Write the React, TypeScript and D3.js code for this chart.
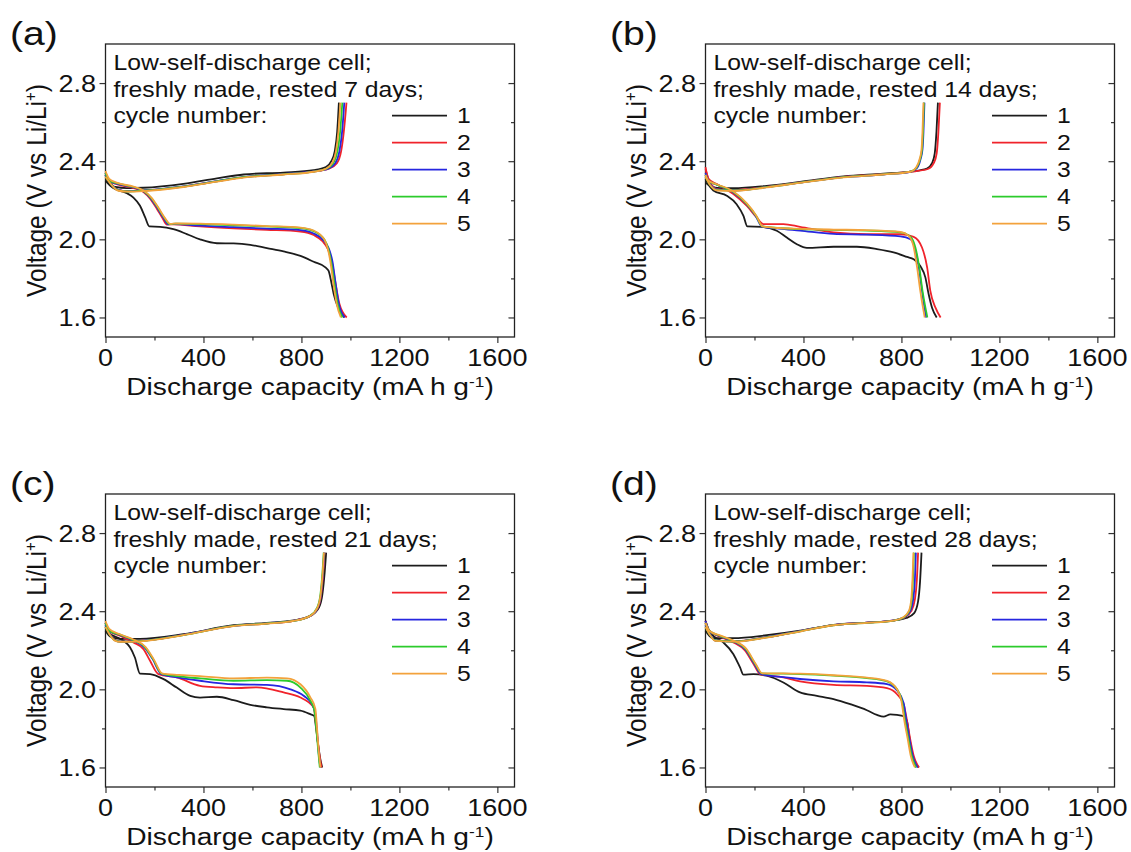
import React, { useEffect, useRef } from 'react';
import * as d3 from 'd3';

const panelLetters = ['(a)', '(b)', '(c)', '(d)'];
const restDays = [7, 14, 21, 28];
const cycleLabels = ['1', '2', '3', '4', '5'];
const cycleColors = ['#1c1c1c', '#f0232b', '#2626e0', '#2ccb2c', '#f3a23c'];
const xMajorTicks = [0, 400, 800, 1200, 1600];
const xMinorTicks = [200, 600, 1000, 1400];
const yMajorTicks = [1.6, 2.0, 2.4, 2.8];
const yMinorTicks = [1.8, 2.2, 2.6];

// [capacity (mA h g-1), voltage (V)], one list per cycle 1..5
const chargeA = [
  [[0, 2.3], [15, 2.28], [40, 2.268], [87, 2.262], [155, 2.264], [318, 2.284], [455, 2.312], [564, 2.332], [727, 2.342], [850, 2.354], [900, 2.37], [922, 2.4], [936, 2.45], [946, 2.55], [953, 2.7]],
  [[0, 2.33], [20, 2.29], [50, 2.255], [90, 2.247], [155, 2.25], [318, 2.27], [455, 2.297], [564, 2.318], [727, 2.333], [850, 2.347], [912, 2.362], [945, 2.39], [962, 2.45], [973, 2.55], [984, 2.7]],
  [[0, 2.33], [20, 2.288], [50, 2.254], [90, 2.246], [155, 2.25], [318, 2.271], [455, 2.298], [564, 2.319], [727, 2.334], [850, 2.348], [910, 2.362], [938, 2.39], [955, 2.45], [966, 2.55], [975, 2.7]],
  [[0, 2.32], [20, 2.286], [50, 2.252], [90, 2.245], [155, 2.249], [318, 2.27], [455, 2.297], [564, 2.318], [727, 2.333], [850, 2.347], [905, 2.363], [930, 2.39], [947, 2.45], [958, 2.55], [967, 2.7]],
  [[0, 2.32], [20, 2.285], [50, 2.25], [90, 2.244], [155, 2.247], [318, 2.268], [455, 2.295], [564, 2.316], [727, 2.332], [850, 2.346], [902, 2.363], [925, 2.39], [941, 2.45], [951, 2.55], [959, 2.7]],
];
const dischargeA = [
  [[0, 2.33], [10, 2.29], [32, 2.262], [87, 2.236], [114, 2.214], [141, 2.172], [162, 2.112], [179, 2.066], [223, 2.064], [277, 2.052], [332, 2.027], [386, 2.0], [455, 1.98], [523, 1.979], [591, 1.972], [659, 1.955], [727, 1.938], [796, 1.915], [850, 1.885], [898, 1.856], [911, 1.838], [921, 1.787], [932, 1.719], [950, 1.65], [975, 1.6]],
  [[0, 2.34], [15, 2.3], [46, 2.282], [114, 2.262], [155, 2.242], [182, 2.208], [209, 2.158], [232, 2.11], [250, 2.076], [277, 2.077], [386, 2.066], [523, 2.056], [659, 2.049], [796, 2.04], [850, 2.022], [886, 1.99], [908, 1.95], [925, 1.88], [940, 1.77], [955, 1.67], [985, 1.6]],
  [[0, 2.34], [15, 2.3], [46, 2.285], [114, 2.266], [155, 2.246], [185, 2.21], [212, 2.16], [237, 2.11], [256, 2.077], [280, 2.078], [386, 2.07], [523, 2.062], [659, 2.055], [796, 2.047], [850, 2.03], [890, 1.995], [911, 1.955], [927, 1.885], [940, 1.77], [953, 1.668], [977, 1.6]],
  [[0, 2.34], [15, 2.3], [46, 2.288], [114, 2.268], [155, 2.248], [188, 2.21], [215, 2.16], [240, 2.11], [261, 2.078], [285, 2.08], [386, 2.078], [523, 2.072], [659, 2.066], [796, 2.058], [850, 2.042], [893, 2.0], [910, 1.95], [922, 1.88], [935, 1.77], [948, 1.668], [967, 1.6]],
  [[0, 2.35], [15, 2.31], [46, 2.29], [114, 2.27], [155, 2.25], [190, 2.21], [217, 2.16], [242, 2.11], [264, 2.079], [290, 2.081], [386, 2.08], [523, 2.075], [659, 2.068], [796, 2.06], [850, 2.045], [893, 2.0], [908, 1.95], [919, 1.88], [931, 1.77], [944, 1.668], [961, 1.6]],
];

const chargeB = [
  [[0, 2.29], [20, 2.272], [60, 2.262], [114, 2.262], [250, 2.274], [386, 2.294], [564, 2.322], [727, 2.336], [837, 2.347], [904, 2.362], [925, 2.39], [936, 2.44], [943, 2.55], [949, 2.7]],
  [[0, 2.36], [15, 2.3], [50, 2.256], [114, 2.252], [250, 2.269], [386, 2.291], [564, 2.32], [727, 2.334], [837, 2.346], [908, 2.36], [932, 2.39], [944, 2.44], [951, 2.55], [957, 2.7]],
  [[0, 2.33], [15, 2.29], [50, 2.254], [114, 2.25], [250, 2.268], [386, 2.29], [564, 2.318], [727, 2.332], [837, 2.346], [864, 2.366], [878, 2.41], [886, 2.46], [890, 2.55], [894, 2.7]],
  [[0, 2.32], [15, 2.285], [50, 2.252], [114, 2.25], [250, 2.267], [386, 2.29], [564, 2.318], [727, 2.333], [837, 2.347], [862, 2.368], [876, 2.41], [884, 2.46], [888, 2.55], [892, 2.7]],
  [[0, 2.32], [15, 2.285], [50, 2.25], [114, 2.248], [250, 2.266], [386, 2.289], [564, 2.317], [727, 2.332], [837, 2.346], [860, 2.368], [874, 2.41], [882, 2.46], [886, 2.55], [890, 2.7]],
];
const dischargeB = [
  [[0, 2.31], [12, 2.28], [32, 2.25], [87, 2.223], [127, 2.18], [155, 2.12], [171, 2.066], [230, 2.064], [291, 2.044], [332, 2.009], [373, 1.975], [414, 1.956], [523, 1.962], [618, 1.962], [700, 1.95], [768, 1.933], [823, 1.91], [850, 1.898], [877, 1.864], [898, 1.804], [911, 1.72], [925, 1.65], [944, 1.6]],
  [[0, 2.37], [12, 2.31], [46, 2.283], [114, 2.232], [168, 2.172], [209, 2.112], [237, 2.078], [318, 2.078], [386, 2.064], [523, 2.035], [659, 2.026], [796, 2.026], [850, 2.013], [884, 1.958], [905, 1.856], [918, 1.736], [939, 1.65], [960, 1.6]],
  [[0, 2.34], [12, 2.3], [46, 2.28], [114, 2.24], [168, 2.18], [205, 2.12], [230, 2.066], [300, 2.055], [386, 2.045], [523, 2.028], [659, 2.024], [796, 2.015], [837, 2.0], [857, 1.945], [871, 1.856], [884, 1.736], [894, 1.65], [901, 1.6]],
  [[0, 2.33], [12, 2.3], [46, 2.28], [114, 2.242], [168, 2.182], [207, 2.12], [232, 2.066], [300, 2.058], [386, 2.052], [523, 2.048], [659, 2.045], [796, 2.036], [837, 2.013], [857, 1.958], [873, 1.856], [886, 1.736], [898, 1.65], [906, 1.6]],
  [[0, 2.33], [12, 2.3], [46, 2.282], [114, 2.245], [168, 2.185], [208, 2.12], [233, 2.066], [300, 2.058], [386, 2.054], [523, 2.05], [659, 2.047], [796, 2.038], [830, 2.018], [850, 1.96], [864, 1.856], [877, 1.736], [888, 1.65], [895, 1.6]],
];

const chargeC = [
  [[0, 2.3], [20, 2.27], [59, 2.258], [141, 2.258], [318, 2.282], [523, 2.328], [659, 2.34], [768, 2.353], [836, 2.376], [872, 2.42], [886, 2.49], [895, 2.6], [901, 2.7]],
  [[0, 2.34], [15, 2.29], [40, 2.252], [59, 2.245], [141, 2.248], [318, 2.279], [523, 2.325], [659, 2.337], [768, 2.351], [836, 2.376], [868, 2.42], [881, 2.49], [889, 2.6], [894, 2.7]],
  [[0, 2.33], [15, 2.29], [40, 2.25], [59, 2.244], [141, 2.247], [318, 2.279], [523, 2.325], [659, 2.338], [768, 2.351], [836, 2.375], [867, 2.42], [880, 2.49], [888, 2.6], [893, 2.7]],
  [[0, 2.32], [15, 2.285], [40, 2.25], [59, 2.244], [141, 2.247], [318, 2.278], [523, 2.325], [659, 2.337], [768, 2.35], [834, 2.376], [865, 2.42], [878, 2.49], [886, 2.6], [891, 2.7]],
  [[0, 2.32], [15, 2.285], [40, 2.248], [59, 2.243], [141, 2.246], [318, 2.277], [523, 2.324], [659, 2.336], [768, 2.35], [836, 2.376], [866, 2.42], [879, 2.49], [887, 2.6], [892, 2.7]],
];
const dischargeC = [
  [[0, 2.32], [12, 2.29], [32, 2.274], [73, 2.249], [100, 2.215], [120, 2.163], [141, 2.08], [182, 2.078], [237, 2.052], [291, 2.009], [346, 1.967], [386, 1.958], [455, 1.962], [523, 1.945], [591, 1.921], [659, 1.908], [727, 1.899], [796, 1.891], [836, 1.873], [852, 1.864], [860, 1.8], [868, 1.72], [876, 1.65], [885, 1.6]],
  [[0, 2.34], [15, 2.3], [59, 2.274], [114, 2.24], [155, 2.206], [182, 2.146], [216, 2.078], [291, 2.061], [386, 2.018], [455, 2.01], [523, 2.006], [618, 2.01], [727, 1.984], [796, 1.958], [830, 1.933], [850, 1.907], [858, 1.84], [866, 1.74], [874, 1.66], [882, 1.6]],
  [[0, 2.34], [15, 2.3], [59, 2.278], [114, 2.25], [160, 2.214], [192, 2.156], [228, 2.078], [300, 2.06], [386, 2.044], [523, 2.026], [659, 2.023], [755, 2.0], [809, 1.967], [843, 1.924], [856, 1.88], [864, 1.78], [870, 1.68], [877, 1.6]],
  [[0, 2.34], [15, 2.3], [59, 2.28], [114, 2.252], [162, 2.215], [194, 2.156], [230, 2.08], [300, 2.066], [386, 2.056], [523, 2.044], [659, 2.047], [741, 2.044], [796, 2.009], [837, 1.941], [853, 1.89], [862, 1.78], [869, 1.68], [875, 1.6]],
  [[0, 2.35], [15, 2.31], [59, 2.282], [114, 2.255], [164, 2.216], [196, 2.156], [233, 2.08], [300, 2.074], [386, 2.068], [523, 2.056], [659, 2.06], [741, 2.056], [796, 2.026], [837, 1.958], [857, 1.9], [865, 1.78], [871, 1.68], [878, 1.6]],
];

const chargeD = [
  [[0, 2.3], [15, 2.275], [30, 2.262], [114, 2.262], [250, 2.277], [386, 2.3], [523, 2.33], [659, 2.342], [768, 2.352], [820, 2.365], [852, 2.39], [868, 2.45], [876, 2.55], [882, 2.7]],
  [[0, 2.34], [15, 2.29], [40, 2.25], [114, 2.246], [250, 2.267], [386, 2.298], [523, 2.329], [659, 2.341], [768, 2.353], [812, 2.367], [840, 2.4], [855, 2.46], [863, 2.56], [868, 2.7]],
  [[0, 2.33], [15, 2.29], [40, 2.25], [114, 2.245], [250, 2.267], [386, 2.298], [523, 2.329], [659, 2.341], [768, 2.353], [810, 2.367], [836, 2.4], [848, 2.46], [855, 2.56], [859, 2.7]],
  [[0, 2.32], [15, 2.285], [40, 2.25], [114, 2.245], [250, 2.266], [386, 2.297], [523, 2.328], [659, 2.34], [768, 2.352], [808, 2.367], [832, 2.4], [842, 2.46], [847, 2.56], [851, 2.7]],
  [[0, 2.32], [15, 2.285], [40, 2.248], [114, 2.244], [250, 2.265], [386, 2.296], [523, 2.328], [659, 2.34], [768, 2.352], [806, 2.368], [830, 2.4], [840, 2.46], [845, 2.56], [849, 2.7]],
];
const dischargeD = [
  [[0, 2.35], [15, 2.3], [32, 2.274], [73, 2.24], [114, 2.18], [141, 2.112], [155, 2.075], [196, 2.078], [250, 2.07], [318, 2.035], [386, 1.984], [455, 1.967], [523, 1.95], [591, 1.924], [659, 1.893], [700, 1.869], [727, 1.86], [755, 1.872], [782, 1.869], [809, 1.862], [822, 1.84], [832, 1.76], [842, 1.68], [852, 1.64], [870, 1.6]],
  [[0, 2.35], [15, 2.3], [59, 2.27], [114, 2.24], [160, 2.2], [196, 2.13], [223, 2.078], [318, 2.061], [386, 2.041], [523, 2.023], [659, 2.018], [741, 2.006], [782, 1.975], [809, 1.924], [823, 1.838], [835, 1.75], [850, 1.66], [872, 1.6]],
  [[0, 2.35], [15, 2.3], [59, 2.272], [114, 2.245], [162, 2.205], [200, 2.13], [226, 2.079], [318, 2.062], [386, 2.053], [523, 2.041], [659, 2.036], [741, 2.027], [782, 1.994], [809, 1.93], [820, 1.84], [832, 1.75], [846, 1.66], [866, 1.6]],
  [[0, 2.34], [15, 2.3], [59, 2.274], [114, 2.248], [164, 2.207], [203, 2.13], [230, 2.082], [318, 2.08], [386, 2.078], [523, 2.07], [659, 2.058], [741, 2.041], [782, 2.0], [802, 1.94], [815, 1.838], [828, 1.75], [842, 1.66], [860, 1.6]],
  [[0, 2.34], [15, 2.3], [59, 2.276], [114, 2.25], [166, 2.208], [205, 2.13], [232, 2.082], [318, 2.082], [386, 2.08], [523, 2.072], [659, 2.06], [741, 2.043], [782, 2.0], [800, 1.94], [812, 1.838], [825, 1.75], [838, 1.66], [855, 1.6]],
];

const chargeSets = [chargeA, chargeB, chargeC, chargeD];
const dischargeSets = [dischargeA, dischargeB, dischargeC, dischargeD];

const FONT = '"Liberation Sans", Arial, Helvetica, sans-serif';
const SX = 1.15; // the source figure is slightly stretched sideways

export default function App() {
  const svgRef = useRef<SVGSVGElement>(null);

  useEffect(() => {
    const W = 1131;
    const H = 852;
    const svg = d3.select(svgRef.current).attr('width', W).attr('height', H);
    svg.selectAll('*').remove();
    svg.append('rect').attr('width', W).attr('height', H).attr('fill', '#fff');

    const left = 105.5, right = 514.5, top = 44, bottom = 337;
    const x = d3.scaleLinear().domain([0, 1670]).range([left, right]);
    const y = d3.scaleLinear().domain([1.5, 3.0]).range([bottom, top]);
    const line = d3.line<number[]>().x(d => x(d[0])).y(d => y(d[1])).curve(d3.curveMonotoneX);

    const txt = (g: any, s: string, tx: number, ty: number, size: number, anchor = 'start', extra = '') =>
      g.append('text')
        .attr('transform', `translate(${tx},${ty}) scale(${SX},1)${extra}`)
        .attr('text-anchor', anchor)
        .style('font-family', FONT)
        .style('font-size', `${size}px`)
        .attr('fill', '#111')
        .text(s);

    panelLetters.forEach((letter, p) => {
      const g = svg.append('g').attr('transform', `translate(${(p % 2) * 600},${Math.floor(p / 2) * 450})`);

      // ticks
      const styleAxis = (a: any) => {
        a.select('.domain').remove();
        a.selectAll('line').attr('stroke', '#333').attr('stroke-width', 1.2);
      };
      g.append('g').attr('transform', `translate(0,${bottom})`)
        .call(d3.axisBottom(x).tickValues(xMajorTicks).tickSize(6).tickFormat(() => '')).call(styleAxis);
      g.append('g').attr('transform', `translate(0,${bottom})`)
        .call(d3.axisBottom(x).tickValues(xMinorTicks).tickSize(3.5).tickFormat(() => '')).call(styleAxis);
      g.append('g').attr('transform', `translate(${left},0)`)
        .call(d3.axisLeft(y).tickValues(yMajorTicks).tickSize(6).tickFormat(() => '')).call(styleAxis);
      g.append('g').attr('transform', `translate(${left},0)`)
        .call(d3.axisLeft(y).tickValues(yMinorTicks).tickSize(3.5).tickFormat(() => '')).call(styleAxis);
      g.append('g').attr('transform', `translate(${right},0)`)
        .call(d3.axisRight(y).tickValues(yMajorTicks).tickSize(-6).tickFormat(() => '')).call(styleAxis);
      g.append('g').attr('transform', `translate(${right},0)`)
        .call(d3.axisRight(y).tickValues(yMinorTicks).tickSize(-3.5).tickFormat(() => '')).call(styleAxis);

      g.append('rect')
        .attr('x', left).attr('y', top)
        .attr('width', right - left).attr('height', bottom - top)
        .attr('fill', 'none').attr('stroke', '#222').attr('stroke-width', 1.3);

      // tick labels
      xMajorTicks.forEach(t => txt(g, String(t), x(t), 366, 23.5, 'middle'));
      yMajorTicks.forEach(t => txt(g, t.toFixed(1), 96, y(t) + 8.5, 23.5, 'end'));

      // axis titles
      const xt = txt(g, 'Discharge capacity (mA h g', 310, 395, 24.5, 'middle');
      xt.append('tspan').attr('dy', -8).style('font-size', '15px').text('-1');
      xt.append('tspan').attr('dy', 8).text(')');

      const yt = txt(g, 'Voltage (V vs Li/Li', 46, 190.5, 24.5, 'middle', ' rotate(-90)');
      yt.append('tspan').attr('dy', -9).style('font-size', '15px').text('+');
      yt.append('tspan').attr('dy', 9).text(')');

      // panel letter
      txt(g, letter, 10, 45, 34);

      // curves
      cycleLabels.forEach((c, i) => {
        [chargeSets[p][i], dischargeSets[p][i]].forEach(pts => {
          g.append('path')
            .attr('d', line(pts))
            .attr('fill', 'none')
            .attr('stroke', cycleColors[i])
            .attr('stroke-width', 1.8);
        });
      });

      // annotation
      const notes = ['Low-self-discharge cell;', `freshly made, rested ${restDays[p]} days;`, 'cycle number:'];
      notes.forEach((n, k) => txt(g, n, 113.5, 70 + k * 26.6, 21.5));

      // legend
      cycleLabels.forEach((c, i) => {
        const ly = 115.7 + i * 27;
        g.append('line')
          .attr('x1', 392).attr('x2', 447).attr('y1', ly).attr('y2', ly)
          .attr('stroke', cycleColors[i]).attr('stroke-width', 1.8);
        txt(g, c, 457, ly + 7.5, 21.5);
      });
    });
  }, []);

  return <svg ref={svgRef} style={{ position: 'absolute', left: 0, top: 0 }} />;
}
